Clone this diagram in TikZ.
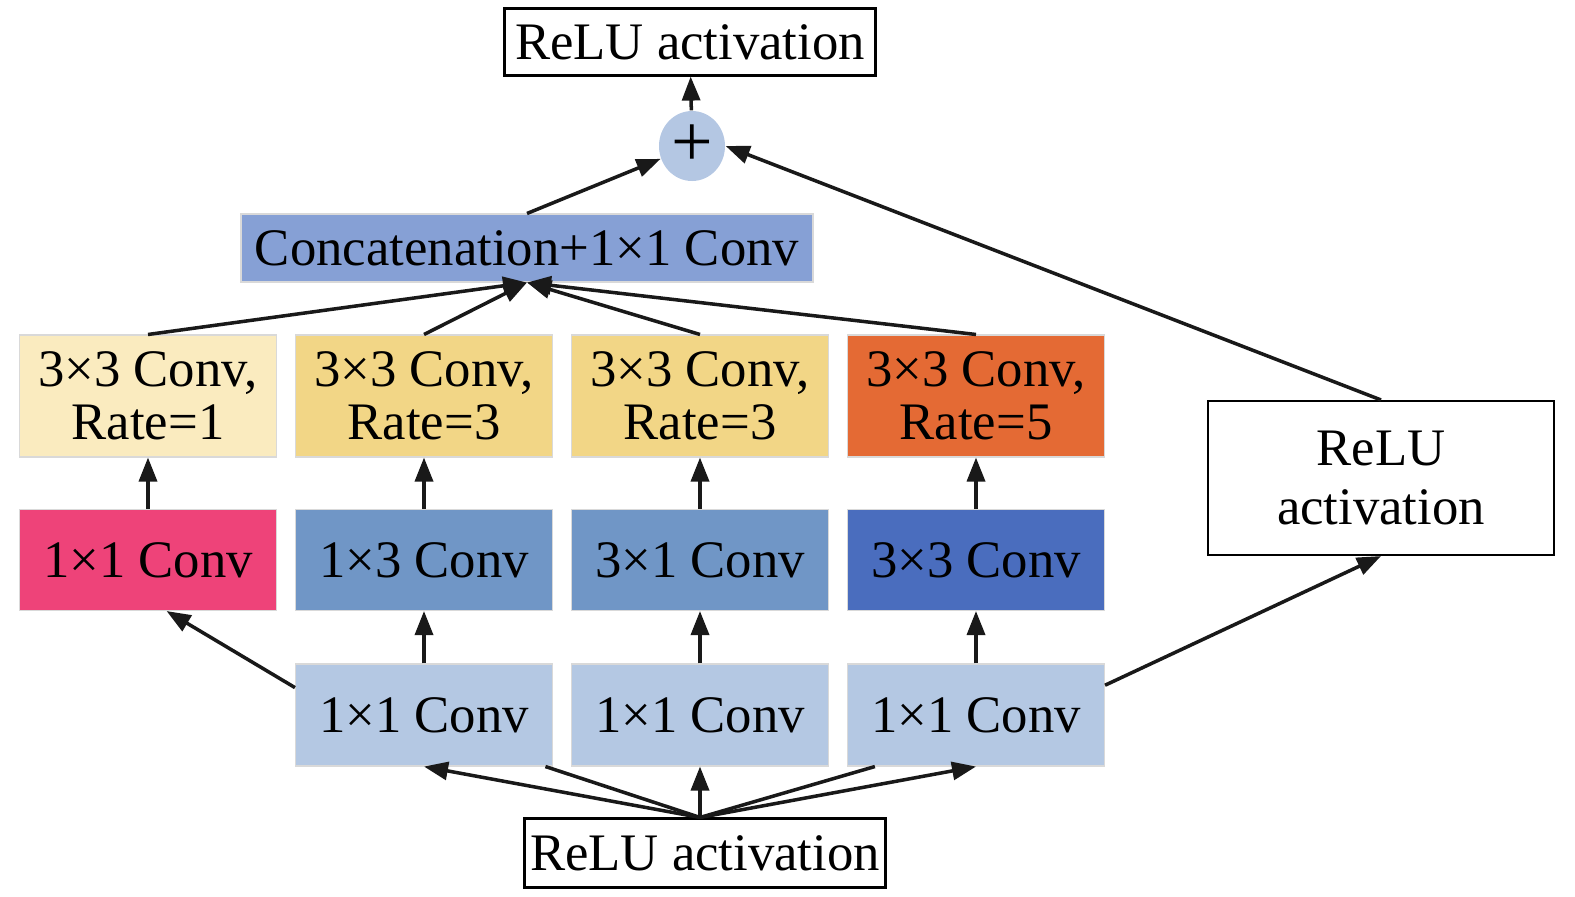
\documentclass[tikz,border=0pt]{standalone}
\usepackage{fontspec}
\setmainfont{Liberation Serif}
\usetikzlibrary{arrows.meta,shapes.geometric}

\definecolor{plusblue}{HTML}{B4C7E3}
\definecolor{catblue}{HTML}{86A0D5}
\definecolor{rateA}{HTML}{FAEBBF}
\definecolor{rateB}{HTML}{F2D686}
\definecolor{rateC}{HTML}{E46A34}
\definecolor{convpink}{HTML}{EE4379}
\definecolor{convmid}{HTML}{7096C6}
\definecolor{convdark}{HTML}{4A6DBE}
\definecolor{convlight}{HTML}{B4C8E3}

\begin{document}
\begin{tikzpicture}[x=0.1mm, y=-0.1mm, >={Triangle[length=2.4mm,width=1.8mm]},
    font=\fontsize{15}{17}\selectfont,
    blk/.style={draw=black!15, line width=0.3pt, minimum width=25.7mm, inner sep=0pt, align=center},
    relu/.style={draw=black, line width=0.6pt, fill=white, inner sep=0pt, align=center},
    link/.style={line width=1pt, black!90}]
    \useasboundingbox (0,0) rectangle (1575,896);

    % Output side
    \node[relu, minimum width=37.1mm, minimum height=6.7mm] (out) at (690,42) {ReLU activation};
    \node[ellipse, fill=plusblue, minimum width=6.6mm, minimum height=7mm, inner sep=0pt,
          font=\fontsize{21}{21}\selectfont] (plus) at (692,146) {+};
    \node[blk, fill=catblue, minimum width=57.2mm, minimum height=6.8mm] (cat) at (527,248) {Concatenation+1×1 Conv};

    % Dilated branches
    \foreach \n/\x/\c/\r in {1/148/rateA/1, 2/424/rateB/3, 3/700/rateB/3, 4/976/rateC/5} {
        \node[blk, fill=\c, minimum height=12.2mm] (a\n) at (\x,396) {3×3 Conv,\\[-2pt]Rate=\r};
    }
    \foreach \n/\x/\c/\t in {1/148/convpink/1×1, 2/424/convmid/1×3, 3/700/convmid/3×1, 4/976/convdark/3×3} {
        \node[blk, fill=\c, minimum height=10.1mm] (b\n) at (\x,560) {\t\ Conv};
    }
    \foreach \n/\x in {1/424, 2/700, 3/976} {
        \node[blk, fill=convlight, minimum height=10.2mm] (c\n) at (\x,715) {1×1 Conv};
    }

    % Inputs and shortcut
    \node[relu, minimum width=36.1mm, minimum height=6.9mm] (in) at (705,853) {ReLU activation};
    \node[relu, minimum width=34.6mm, minimum height=15.4mm] (side) at (1381,478) {ReLU\\activation};
    \coordinate (split) at (in.north -| c2);

    % Connections
    \draw[link,->] (plus) -- (out);
    \draw[link,->] (cat.north) -- (plus);
    \draw[link,->] (side.north) -- (plus.east);
    \foreach \n in {1,...,4} {
        \draw[link,->] (a\n.north) -- (cat.south);
        \draw[link,->] (b\n) -- (a\n);
    }
    \foreach \n/\m in {1/2, 2/3, 3/4} \draw[link,->] (c\n) -- (b\m);
    \draw[link,->] (c1.168) -- (b1.290);
    \draw[link,->] (c3.13) -- (side.south);
    \draw[link,->] (split) -- (c1.south);
    \draw[link,->] (split) -- (c2.south);
    \draw[link,->] (split) -- (c3.south);
    \draw[link] (split) -- (c1.337);
    \draw[link] (split) -- (c3.207);
\end{tikzpicture}
\end{document}
